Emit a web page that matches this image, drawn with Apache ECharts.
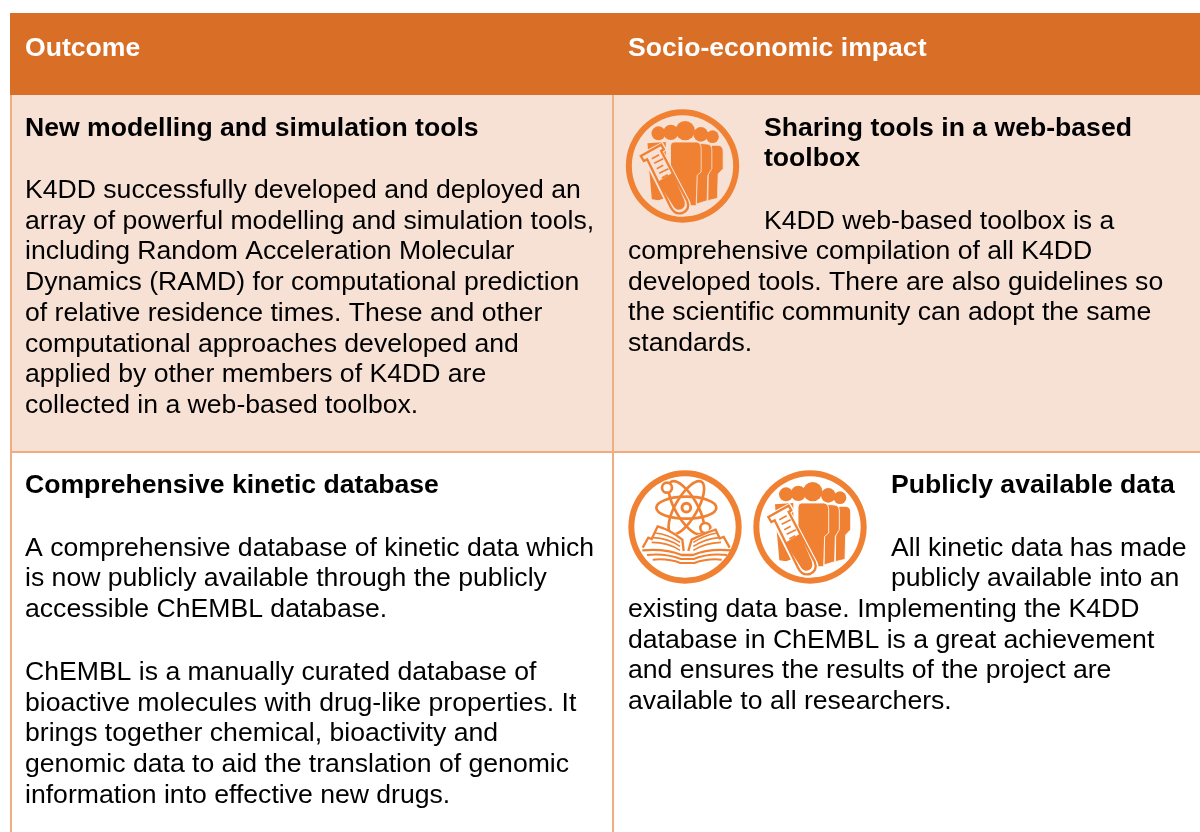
<!DOCTYPE html>
<html><head><meta charset="utf-8">
<style>html,body{margin:0;padding:0;background:#fff}#c{width:1200px;height:832px}</style>
<script src="https://cdn.jsdelivr.net/npm/echarts@6/dist/echarts.min.js"></script>
</head><body><div id="c"></div>
<script>
const headers = ['Outcome', 'Socio-economic impact'];
const cell1Title = ['New modelling and simulation tools'];
const cell1Body = ['K4DD successfully developed and deployed an','array of powerful modelling and simulation tools,','including Random Acceleration Molecular','Dynamics (RAMD) for computational prediction','of relative residence times. These and other','computational approaches developed and','applied by other members of K4DD are','collected in a web-based toolbox.'];
const cell2Title = ['Sharing tools in a web-based','toolbox'];
const cell2Lead = ['K4DD web-based toolbox is a'];
const cell2Body = ['comprehensive compilation of all K4DD','developed tools. There are also guidelines so','the scientific community can adopt the same','standards.'];
const cell3Title = ['Comprehensive kinetic database'];
const cell3BodyA = ['A comprehensive database of kinetic data which','is now publicly available through the publicly','accessible ChEMBL database.'];
const cell3BodyB = ['ChEMBL is a manually curated database of','bioactive molecules with drug-like properties. It','brings together chemical, bioactivity and','genomic data to aid the translation of genomic','information into effective new drugs.'];
const cell4Title = ['Publicly available data'];
const cell4Lead = ['All kinetic data has made','publicly available into an'];
const cell4Body = ['existing data base. Implementing the K4DD','database in ChEMBL is a great achievement','and ensures the results of the project are','available to all researchers.'];

const FONT = '"Liberation Sans", Arial, sans-serif';
const HEAD = '#D96F27', PEACH = '#F7E1D5', RULE = '#F0AE80', ICON = '#F08133';
const SIZE = 26.6, LH = 30.72;

function block(lines, x, cy, bold, color) {
  return lines.map((t, i) => ({
    type: 'text', z: 5,
    style: { x, y: Math.round(cy + i * LH), text: t, fill: color || '#000', font: (bold ? 'bold ' : '') + SIZE + 'px ' + FONT, verticalAlign: 'middle' }
  }));
}
function rect(x, y, w, h, fill) { return { type: 'rect', shape: { x, y, width: w, height: h }, style: { fill }, silent: true }; }

function ring(bg) {
  return [
    { type: 'circle', shape: { cx: 0, cy: 0, r: 170 }, style: { fill: ICON } },
    { type: 'circle', shape: { cx: 0, cy: 0, r: 152 }, style: { fill: bg } }
  ];
}
function peopleIcon(cx, cy, bg) {
  const p = (d, o) => ({ type: 'path', shape: { pathData: d }, style: Object.assign({ fill: ICON }, o || {}) });
  const c = (x, y, r) => ({ type: 'circle', shape: { cx: x, cy: y, r }, style: { fill: ICON } });
  const gap = { stroke: bg, lineWidth: 2.5 };
  return {
    type: 'group', x: cx, y: cy, scaleX: 1 / 3, scaleY: 1 / 3, silent: true,
    children: ring(bg).concat([
      c(-72, -98, 21), c(-35, -101, 23), c(55, -95, 22), c(90, -88, 19),
      p('M-105,-68 L-50,-72 L-50,95 L-72,103 L-92,100 L-100,10 Z'),
      p('M90,-62 L108,-62 Q122,-60 122,-44 L122,8 L107,24 L105,97 L76,104 L78,-50 Z', gap),
      p('M50,-68 L74,-66 Q88,-64 88,-48 L88,8 L76,28 L74,104 L42,114 L44,-50 Z', gap),
      p('M-25,-72 L42,-72 Q56,-70 56,-52 L56,18 L44,28 L41,119 L-8,119 L-36,55 L-36,-60 Q-36,-72 -25,-72 Z', gap),
      c(8, -106, 29),
      p('M-115,-38 L-62,-66 L-52,-50 L-62,-44 L18,108 Q28,134 0,146 Q-26,152 -38,126 L-108,-14 L-120,-10 L-127,-28 Z', { fill: bg, stroke: bg, lineWidth: 10 }),
      p('M-125,-30 L-64,-64 L-56,-50 L-64,-45 L14,104 Q24,130 0,141 Q-24,147 -36,122 L-106,-20 L-116,-15 Z', { fill: bg, stroke: ICON, lineWidth: 7 }),
      p('M-74,47 L-30,20 L5,102 Q12,122 -4,130 Q-20,136 -30,116 Z'),
      p('M-92,-22 L-70,-34 M-85,-8 L-58,-22 M-77,8 L-58,-2 M-70,22 L-42,8 M-62,36 L-44,26', { fill: 'none', stroke: ICON, lineWidth: 5 })
    ])
  };
}
function atomIcon(cx, cy, bg) {
  const orbit = (rot) => ({ type: 'ellipse', x: 4, y: -58, rotation: rot, shape: { cx: 0, cy: 0, rx: 90, ry: 33 }, style: { fill: 'none', stroke: ICON, lineWidth: 8 } });
  const ln = (d, w) => ({ type: 'path', shape: { pathData: d }, style: { fill: 'none', stroke: ICON, lineWidth: w || 6 } });
  return {
    type: 'group', x: cx, y: cy, scaleX: 1 / 3, scaleY: 1 / 3, silent: true,
    children: ring(bg).concat([
      orbit(0), orbit(Math.PI / 3), orbit(-Math.PI / 3),
      { type: 'circle', shape: { cx: 4, cy: -58, r: 13 }, style: { fill: bg, stroke: ICON, lineWidth: 9 } },
      { type: 'circle', shape: { cx: -54, cy: -118, r: 15 }, style: { fill: bg, stroke: ICON, lineWidth: 8 } },
      { type: 'circle', shape: { cx: 61, cy: 3, r: 15 }, style: { fill: bg, stroke: ICON, lineWidth: 8 } },
      { type: 'path', shape: { pathData: 'M-125,62 L-108,30 L-82,-8 L-40,14 Q-15,22 -4,40 L-4,72 L-125,72 Z M14,40 Q28,22 60,18 L92,-4 L112,32 L130,62 L130,72 L14,72 Z' }, style: { fill: bg } },
      ln('M-127,62 L-110,32 L-100,36 L-82,-2 Q-45,8 -8,38 L-4,72', 7),
      ln('M134,62 L116,30 L104,34 L92,8 Q60,18 20,38 L10,72', 7),
      ln('M-90,18 Q-50,22 -15,46 M-96,32 Q-50,34 -15,58 M-100,46 Q-50,46 -15,70', 5),
      ln('M96,18 Q60,24 25,46 M102,32 Q60,36 25,58 M108,46 Q60,48 25,70', 5),
      ln('M-128,70 Q-60,64 -10,84 L24,84 Q70,64 138,70', 7),
      ln('M-114,84 Q-60,78 -12,96 L26,96 Q70,78 126,84', 6),
      ln('M-97,98 Q-50,94 -14,108 L28,108 Q66,94 110,98', 6)
    ])
  };
}

const elements = [
  rect(10, 13, 1190, 82, HEAD),
  rect(12, 95, 1188, 356, PEACH),
  rect(10, 95, 2, 737, RULE),
  rect(612, 95, 2, 737, RULE),
  rect(10, 451, 1190, 2, RULE),
  ...block([headers[0]], 25, 48.5, true, '#fff'),
  ...block([headers[1]], 628, 48.5, true, '#fff'),
  ...block(cell1Title, 25, 128.5, true),
  ...block(cell1Body, 25, 191),
  ...block(cell2Title, 764, 128.5, true),
  ...block(cell2Lead, 764, 221.5),
  ...block(cell2Body, 628, 252),
  ...block(cell3Title, 25, 485.5, true),
  ...block(cell3BodyA, 25, 548.5),
  ...block(cell3BodyB, 25, 672.8),
  ...block(cell4Title, 891, 485.5, true),
  ...block(cell4Lead, 891, 548.5),
  ...block(cell4Body, 628, 610)
];

const chart = echarts.init(document.getElementById('c'), null, { renderer: 'canvas', width: 1200, height: 832 });
chart.setOption({
  animation: false, backgroundColor: '#fff',
  graphic: { elements },
  series: [{
    type: 'custom', coordinateSystem: 'none', silent: true, z: 10, data: [0],
    renderItem: () => ({ type: 'group', children: [peopleIcon(682.5, 166, PEACH), atomIcon(685, 527, '#fff'), peopleIcon(810, 527, '#fff')] })
  }]
});
</script></body></html>
